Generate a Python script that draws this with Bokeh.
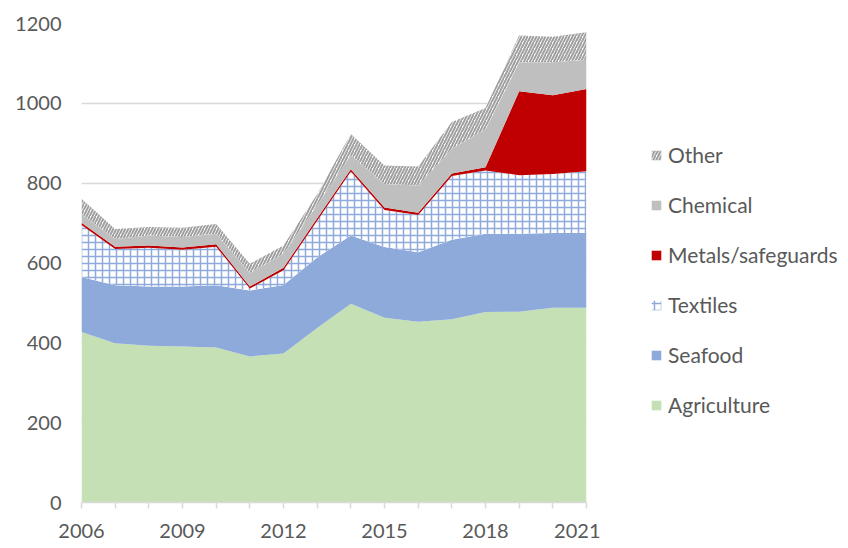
import numpy as np
from bokeh.plotting import figure
from bokeh.layouts import row
from bokeh.models import Legend, LegendItem, FixedTicker, Range1d, ColumnDataSource
from bokeh.embed import file_html
from bokeh.resources import INLINE

years = list(range(2006, 2022))
agriculture = [427, 399, 393, 391, 388, 366, 373, 437, 498, 463, 453, 459, 477, 478, 488, 488]
seafood = [138, 145, 148, 150, 156, 165, 172, 177, 171, 177, 174, 199, 196, 195, 187, 187]
textiles = [130, 91, 97, 92, 97, 5, 37, 92, 160, 93, 93, 160, 159, 147, 148, 155]
metals = [6, 6, 6, 6, 6, 5, 6, 6, 6, 6, 6, 6, 8, 210, 197, 206]
chemical = [22, 19, 25, 26, 26, 34, 35, 33, 35, 59, 68, 62, 95, 73, 83, 73]
other = [38, 25, 21, 23, 25, 23, 21, 27, 53, 46, 48, 67, 53, 67, 64, 69]

series_names = ["Agriculture", "Seafood", "Textiles", "Metals/safeguards", "Chemical", "Other"]
y_ticks = [0, 200, 400, 600, 800, 1000, 1200]
x_label_years = [2006, 2009, 2012, 2015, 2018, 2021]

FONT = "Lato"
TXT = "#595959"

p = figure(width=600, height=548, output_backend="svg", toolbar_location=None,
           x_range=Range1d(2006, 2021), y_range=Range1d(0, 1200),
           min_border_left=81, min_border_right=14, min_border_top=23, min_border_bottom=46)
p.outline_line_color = None
p.xgrid.grid_line_color = None
p.ygrid.grid_line_color = "#d9d9d9"
p.ygrid.grid_line_width = 1.5
p.ygrid.ticker = FixedTicker(ticks=y_ticks)

styles = [
    dict(fill_color="#c5e0b4"),
    dict(fill_color="#8eaadb"),
    dict(fill_color="white", hatch_pattern="+", hatch_color="#8eaadb", hatch_scale=7, hatch_weight=1.5),
    dict(fill_color="#c00000"),
    dict(fill_color="#bfbfbf"),
    dict(fill_color="white", hatch_pattern="/", hatch_color="#a0a0a0", hatch_scale=6, hatch_weight=2),
]

data = [agriculture, seafood, textiles, metals, chemical, other]
base = np.zeros(len(years))
for name, vals, st in zip(series_names, data, styles):
    top = base + np.array(vals, dtype=float)
    src = ColumnDataSource(dict(x=years, y1=base.copy(), y2=top.copy()))
    p.varea(x="x", y1="y1", y2="y2", source=src, **st)
    base = top

# axes
xa = p.xaxis[0]
xa.ticker = FixedTicker(ticks=years)
xa.major_label_overrides = {y: (str(y) if y in x_label_years else "") for y in years}
xa.axis_line_color = "#d9d9d9"
xa.axis_line_width = 1.5
xa.major_tick_line_color = "#d9d9d9"
xa.major_tick_line_width = 1.5
xa.major_tick_in = 0
xa.major_tick_out = 6
xa.minor_tick_line_color = None
xa.major_label_standoff = 15
xa.major_label_text_font = FONT
xa.major_label_text_font_size = "20px"
xa.major_label_text_color = TXT

ya = p.yaxis[0]
ya.ticker = FixedTicker(ticks=y_ticks)
ya.axis_line_color = None
ya.major_tick_line_color = None
ya.minor_tick_line_color = None
ya.major_tick_in = 0
ya.major_tick_out = 0
ya.major_label_standoff = 20
ya.major_label_text_font = FONT
ya.major_label_text_font_size = "20px"
ya.major_label_text_color = TXT

# legend panel (separate figure, swatches only)
lg = figure(width=248, height=548, output_backend="svg", toolbar_location=None,
            x_range=Range1d(0, 1), y_range=Range1d(0, 1),
            min_border=0, min_border_left=0, min_border_right=0,
            min_border_top=0, min_border_bottom=0)
lg.axis.visible = False
lg.grid.visible = False
lg.outline_line_color = None
items = []
for name, st in zip(series_names, styles):
    r = lg.varea(x=[-1, -0.5], y1=[-1, -1], y2=[-0.5, -0.5], **st)
    items.append(LegendItem(label=name, renderers=[r]))
items = list(reversed(items))
legend = Legend(items=items, location=(50, 85))
legend.border_line_color = None
legend.background_fill_alpha = 0
legend.padding = 0
legend.margin = 0
legend.glyph_width = 12
legend.glyph_height = 12
legend.label_height = 24
legend.spacing = 25
legend.label_standoff = 6
legend.label_text_font = FONT
legend.label_text_font_size = "21px"
legend.label_text_color = TXT
lg.add_layout(legend, "center")

layout = row(p, lg, spacing=0)
open("out.html", "w").write(file_html(layout, INLINE))
